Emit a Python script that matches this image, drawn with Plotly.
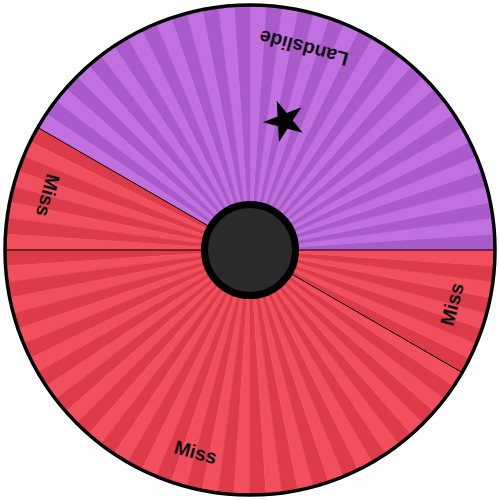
import numpy as np
import plotly.graph_objects as go

# Wheel data
segment_labels = ["Landslide", "Miss", "Miss", "Miss"]
segment_weights = [5, 1, 5, 1]          # relative share of the wheel
segment_kind = ["win", "lose", "lose", "lose"]
winner_index = 0                         # segment marked with the star
stripe_count = 96                        # alternating stripes around the wheel

palette = {
    "win": ("#a95bcb", "#c070df"),   # (dark, light)
    "lose": ("#dd3a4a", "#f24f5e"),
}

total = sum(segment_weights)
bounds = np.cumsum([0] + segment_weights) / total * 360.0
stripe_w = 360.0 / stripe_count

# Stripe bars
thetas, widths, colors = [], [], []
for i in range(stripe_count):
    start = i * stripe_w
    mid = start + stripe_w / 2
    seg = int(np.searchsorted(bounds, mid, side="right") - 1)
    dark, light = palette[segment_kind[seg]]
    thetas.append(mid)
    widths.append(stripe_w)
    colors.append(dark if i % 2 == 0 else light)

fig = go.Figure()
fig.add_trace(go.Barpolar(
    r=[1.0] * stripe_count, theta=thetas, width=widths,
    marker=dict(color=colors, line=dict(color=colors, width=0.6)),
    hoverinfo="skip", showlegend=False,
))

# Segment divider lines
for b in bounds[:-1]:
    fig.add_trace(go.Scatterpolar(
        r=[0, 1.0], theta=[b, b], mode="lines",
        line=dict(color="black", width=1), hoverinfo="skip", showlegend=False,
    ))

# Star on the winning segment
mids = (bounds[:-1] + bounds[1:]) / 2
fig.add_trace(go.Scatterpolar(
    r=[0.545], theta=[mids[winner_index]], mode="markers",
    marker=dict(symbol="star", size=31, color="black",
                angle=-(mids[winner_index] + 90)),
    hoverinfo="skip", showlegend=False,
))

# Hub
fig.add_trace(go.Scatterpolar(
    r=[0], theta=[0], mode="markers",
    marker=dict(size=91, color="#2a2a2a", line=dict(color="black", width=7)),
    hoverinfo="skip", showlegend=False,
))

dom = [0.01, 0.99]
half = (dom[1] - dom[0]) / 2
text_r = 0.853
annotations = []
for lab, m in zip(segment_labels, mids):
    ang = np.deg2rad(m)
    rot = (m + 90) % 360
    if rot > 180:
        rot -= 360
    annotations.append(dict(
        x=0.5 + half * text_r * np.cos(ang), y=0.5 + half * text_r * np.sin(ang),
        xref="paper", yref="paper", text=lab, showarrow=False,
        textangle=-rot, xanchor="center", yanchor="middle",
        font=dict(family="Liberation Sans", size=19.5, color="#111111", weight="bold"),
    ))

fig.update_layout(
    width=500, height=500,
    margin=dict(l=0, r=0, t=0, b=0),
    paper_bgcolor="white", plot_bgcolor="white",
    showlegend=False,
    annotations=annotations,
    polar=dict(
        domain=dict(x=dom, y=dom),
        bgcolor="white",
        bargap=0,
        radialaxis=dict(range=[0, 1.0], visible=False),
        angularaxis=dict(rotation=0, direction="counterclockwise",
                         showline=True, linecolor="black", linewidth=3.5,
                         showgrid=False, showticklabels=False, ticks=""),
    ),
)

fig.write_html("out.html", config={"displayModeBar": False},
               post_script="document.body.style.margin='0';")
